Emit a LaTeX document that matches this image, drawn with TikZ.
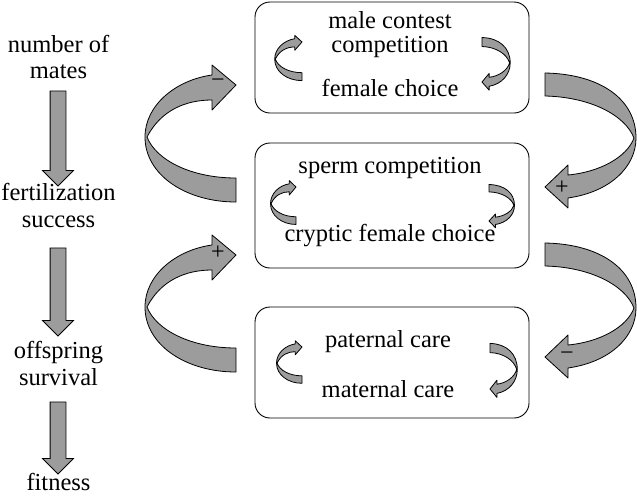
\documentclass[tikz,border=0pt]{standalone}
\usepackage{fontspec}
\setmainfont{Liberation Serif}
\usetikzlibrary{shapes.arrows}
\definecolor{ribbongray}{gray}{0.61}
\tikzset{
  ribbon/.style={draw=black, fill=ribbongray, line width=0.8pt, line join=round},
  box/.style={draw, rounded corners=15pt, line width=0.9pt, minimum width=274pt},
  lbl/.style={font=\fontsize{24.5}{27}\selectfont, anchor=base, inner sep=0pt},
  sign/.style={font=\fontsize{24}{24}\selectfont, inner sep=0pt},
  downarrow/.style={single arrow, draw=black, fill=ribbongray, line width=0.8pt,
    rotate=-90, single arrow head extend=7.5pt, single arrow head indent=0pt,
    inner xsep=0pt, inner ysep=7.5pt, minimum width=0pt},
  leftloop/.pic={
    \draw[ribbon] (0,0) -- (-24,-20) -- (-24,-10)
      .. controls (-60,-5) and (-91,20) .. (-91,52)
      .. controls (-91,90) and (-50,117) .. (0,117) -- (0,93)
      .. controls (-45,93) and (-80,75) .. (-89,52)
      .. controls (-75,25) and (-50,15) .. (-24,15) -- (-24,25) -- cycle;
  },
  rightloop/.pic={
    \draw[ribbon] (0,0) -- (23,-22) -- (23,-12)
      .. controls (55,-15) and (82,-30) .. (89,-49)
      .. controls (80,-72) and (45,-90) .. (0,-91) -- (0,-114)
      .. controls (55,-113) and (91,-88) .. (91,-49)
      .. controls (91,-20) and (65,5) .. (23,11) -- (23,21) -- cycle;
  }
}
\begin{document}
\begin{tikzpicture}[x=1pt,y=-1pt]
      \useasboundingbox (0,0) rectangle (637,496);
      \node[lbl] (num) at (58.5,52) {number of};
      \node[lbl] (mates) at (58.5,78) {mates};
      \node[lbl] (fert) at (58.5,200) {fertilization};
      \node[lbl] (succ) at (58.5,227) {success};
      \node[lbl] (offs) at (58.5,358) {offspring};
      \node[lbl] (surv) at (58.5,385) {survival};
      \node[lbl] (fit) at (58.5,490) {fitness};
      \node[downarrow, minimum height=95pt] (d1) at (58,134.5) {};
      \node[downarrow, minimum height=88pt] (d2) at (58,288) {};
      \node[downarrow, minimum height=72pt] (d3) at (58,434) {};
      \node[box, minimum height=111pt] (mating) at (392,57.5) {};
      \node[box, minimum height=125pt] (sperm) at (392,205.5) {};
      \node[box, minimum height=111pt] (care) at (392,362.5) {};
      \node[lbl] (male) at (390,28) {male contest};
      \node[lbl] (comp) at (390,52) {competition};
      \node[lbl] (fchoice) at (390,96) {female choice};
      \node[lbl] (scomp) at (390,173) {sperm competition};
      \node[lbl] (cryptic) at (390,241) {cryptic female choice};
      \node[lbl] (pat) at (388,347) {paternal care};
      \node[lbl] (mat) at (388,397) {maternal care};
      \pic (up1) at (236,85) {leftloop};
      \pic (up2) at (236,255) {leftloop};
      \pic (dn1) at (545,187) {rightloop};
      \pic (dn2) at (545,357) {rightloop};
      \pic[xscale=0.3, yscale=0.33] (ma) at (302,42) {leftloop};
      \pic[xscale=0.31, yscale=0.39] (mb) at (482,82) {rightloop};
      \pic[xscale=0.28, yscale=0.32] (sa) at (296,187) {leftloop};
      \pic[xscale=0.28, yscale=0.32] (sb) at (489,221) {rightloop};
      \pic[xscale=0.28, yscale=0.31] (ca) at (302,347) {leftloop};
      \pic[xscale=0.3, yscale=0.4] (cb) at (490,389) {rightloop};
      \node[sign] (s1) at (218,83) {−};
      \node[sign] (s2) at (218,253) {+};
      \node[sign] (s3) at (562,188) {+};
      \node[sign] (s4) at (567,356) {−};
    \end{tikzpicture}
\end{document}
